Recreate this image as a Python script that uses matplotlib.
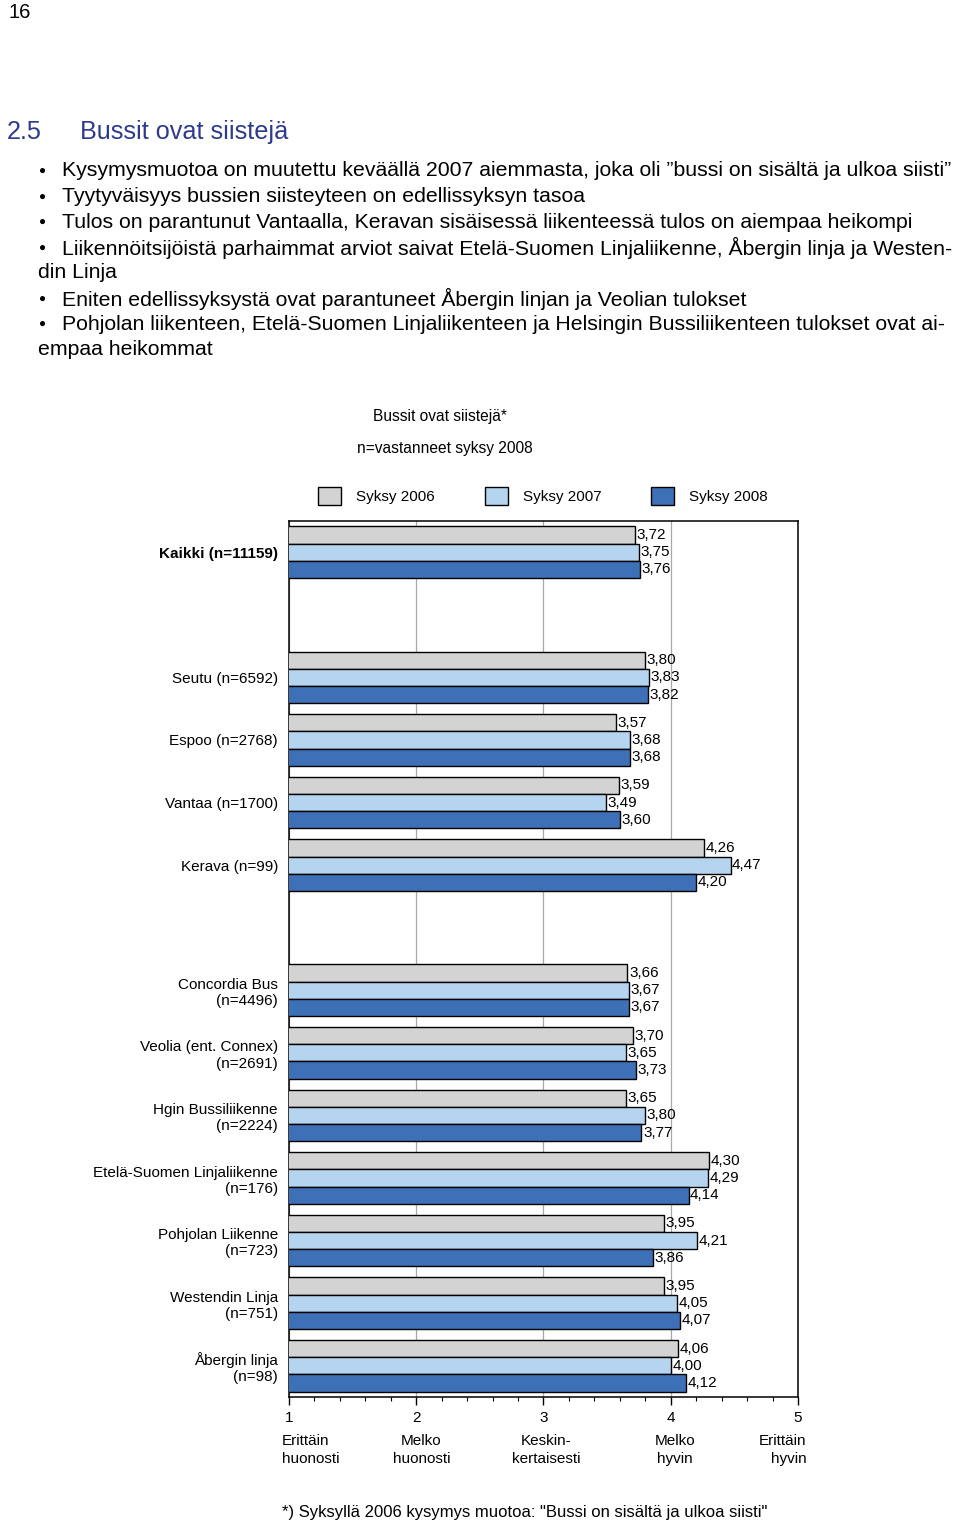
import numpy as np
import matplotlib
matplotlib.use("Agg")
import matplotlib.pyplot as plt
from matplotlib.patches import Patch
from matplotlib.ticker import MultipleLocator

plt.rcParams['font.family'] = ['Liberation Sans', 'DejaVu Sans']

# --- data ---------------------------------------------------------------
groups = ["Kaikki (n=11159)", None,
          "Seutu (n=6592)", "Espoo (n=2768)", "Vantaa (n=1700)", "Kerava (n=99)", None,
          "Concordia Bus\n(n=4496)", "Veolia (ent. Connex)\n(n=2691)",
          "Hgin Bussiliikenne\n(n=2224)", "Etelä-Suomen Linjaliikenne\n(n=176)",
          "Pohjolan Liikenne\n(n=723)", "Westendin Linja\n(n=751)", "Åbergin linja\n(n=98)"]
series = ["Syksy 2006", "Syksy 2007", "Syksy 2008"]
v2006 = [3.72, None, 3.80, 3.57, 3.59, 4.26, None, 3.66, 3.70, 3.65, 4.30, 3.95, 3.95, 4.06]
v2007 = [3.75, None, 3.83, 3.68, 3.49, 4.47, None, 3.67, 3.65, 3.80, 4.29, 4.21, 4.05, 4.00]
v2008 = [3.76, None, 3.82, 3.68, 3.60, 4.20, None, 3.67, 3.73, 3.77, 4.14, 3.86, 4.07, 4.12]
colors = ["#D3D3D3", "#B4D4F0", "#3E70B8"]
xticks = [1, 2, 3, 4, 5]
xdesc = ["Erittäin\nhuonosti", "Melko\nhuonosti", "Keskin-\nkertaisesti", "Melko\nhyvin", "Erittäin\nhyvin"]

bullets = [
    ["Kysymysmuotoa on muutettu keväällä 2007 aiemmasta, joka oli \u201dbussi on sisältä ja ulkoa siisti\u201d"],
    ["Tyytyväisyys bussien siisteyteen on edellissyksyn tasoa"],
    ["Tulos on parantunut Vantaalla, Keravan sisäisessä liikenteessä tulos on aiempaa heikompi"],
    ["Liikennöitsijöistä parhaimmat arviot saivat Etelä-Suomen Linjaliikenne, Åbergin linja ja Westen-",
     "din Linja"],
    ["Eniten edellissyksystä ovat parantuneet Åbergin linjan ja Veolian tulokset"],
    ["Pohjolan liikenteen, Etelä-Suomen Linjaliikenteen ja Helsingin Bussiliikenteen tulokset ovat ai-",
     "empaa heikommat"],
]

W, H = 960, 1525
fig = plt.figure(figsize=(W / 100, H / 100), dpi=100)


def px(x, y):
    return x / W, 1 - y / H


# --- page text ----------------------------------------------------------
fig.text(*px(8, 12), "16", fontsize=14.5, va='center')
fig.text(*px(7, 132), "2.5", fontsize=18.2, color="#2E3A8F", va='center')
fig.text(*px(80, 132), "Bussit ovat siistejä", fontsize=18.2, color="#2E3A8F", va='center')

line_y = 171
for item in bullets:
    for i, line in enumerate(item):
        if i == 0:
            fig.text(*px(43, line_y), "\u25CF", fontsize=8.5, va='center', ha='center')
            fig.text(*px(62, line_y), line, fontsize=15.3, va='center')
        else:
            fig.text(*px(38, line_y), line, fontsize=15.3, va='center')
        line_y += 25.5

fig.text(*px(440, 417), "Bussit ovat siistejä*", fontsize=11.2, ha='center', va='center')
fig.text(*px(445, 448), "n=vastanneet syksy 2008", fontsize=11.2, ha='center', va='center')
fig.text(*px(525, 1513), '*) Syksyllä 2006 kysymys muotoa: "Bussi on sisältä ja ulkoa siisti"',
         fontsize=12, ha='center', va='center')

# --- chart --------------------------------------------------------------
ax = fig.add_axes([289 / W, 1 - 1397 / H, (798 - 289) / W, (1397 - 521) / H])
y = np.arange(len(groups))
h = 0.275
for k, (vals, col) in enumerate(zip([v2006, v2007, v2008], colors)):
    for yi, v in zip(y, vals):
        if v is None:
            continue
        yy = yi + (k - 1) * h
        ax.barh(yy, v, height=h, color=col, edgecolor='black', linewidth=1.0, zorder=3)
        ax.text(v + 0.012, yy, f"{v:.2f}".replace('.', ','), fontsize=11,
                va='center', ha='left', zorder=4)

ax.set_xlim(1, 5)
ax.set_ylim(len(groups) - 0.5, -0.5)
ax.set_yticks(y)
ax.set_yticklabels([g if g else "" for g in groups], fontsize=11, ha='right',
                   multialignment='right')
for lbl, g in zip(ax.get_yticklabels(), groups):
    if g and g.startswith("Kaikki"):
        lbl.set_fontweight('bold')
ax.tick_params(axis='y', length=0, pad=8)

ax.set_xticks(xticks)
ax.set_xticklabels([str(t) for t in xticks], fontsize=11)
ax.xaxis.set_minor_locator(MultipleLocator(0.2))
ax.tick_params(axis='x', which='major', length=6, width=1, pad=4)
ax.tick_params(axis='x', which='minor', length=3, width=0.8)
ax.grid(axis='x', which='major', color='#A8A8A8', linewidth=0.9, zorder=0)
for s in ax.spines.values():
    s.set_linewidth(1.1)

# descriptions under the tick numbers
trans = ax.get_xaxis_transform()
aligns = ['left', 'center', 'center', 'center', 'right']
offs = [-0.055, 0.04, 0.02, 0.03, 0.065]
for t, d, a, o in zip(xticks, xdesc, aligns, offs):
    ax.text(t + o, -0.042, d, transform=trans, ha=a, va='top', fontsize=11,
            linespacing=1.4, multialignment=a)

# legend
handles = [Patch(facecolor=c, edgecolor='black', linewidth=1.0) for c in colors]
fig.legend(handles, series, loc='center', bbox_to_anchor=px(543, 496), ncol=3,
           frameon=False, fontsize=11, handlelength=1.5, handleheight=1.5,
           handletextpad=1.0, columnspacing=3.25)

fig.savefig("out.png", dpi=100)
